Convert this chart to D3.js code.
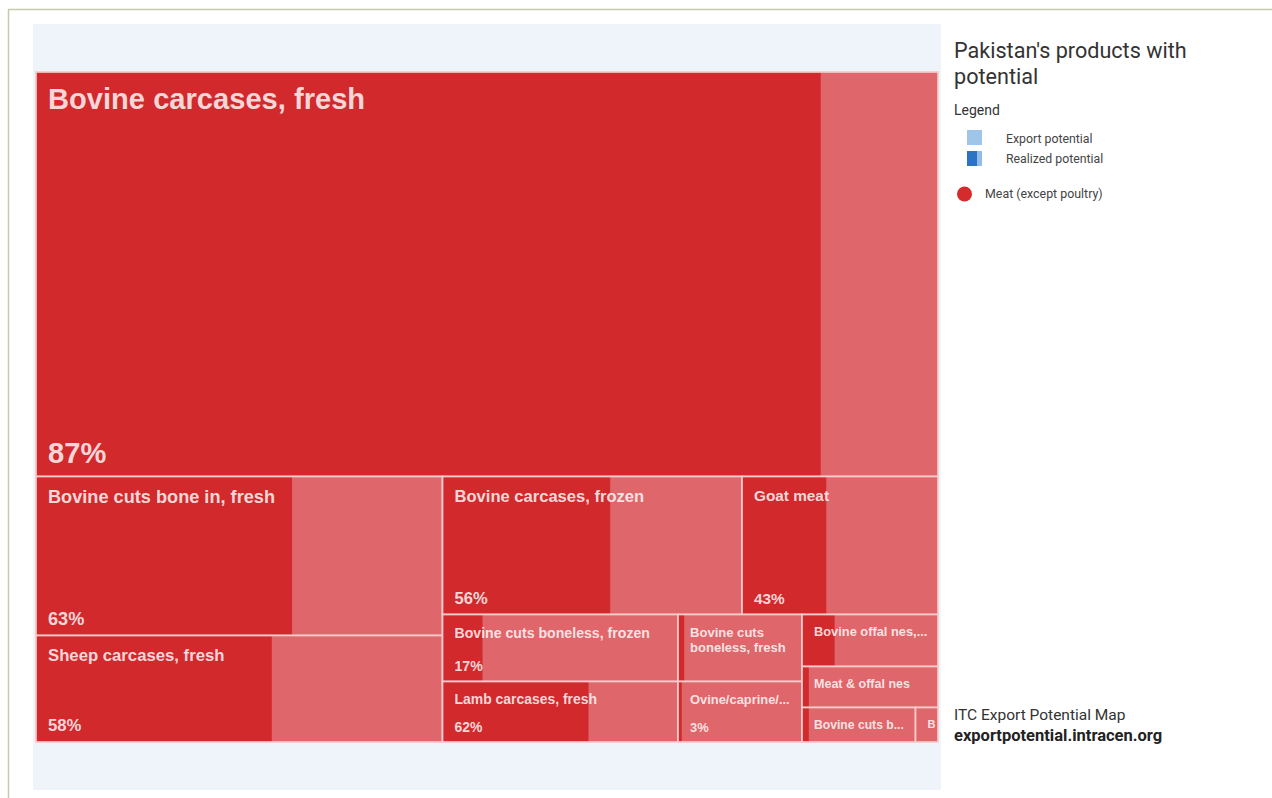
<!DOCTYPE html>
<html>
<head>
<meta charset="utf-8">
<script src="https://cdn.jsdelivr.net/npm/d3@7"></script>
<style>
  html, body { margin: 0; padding: 0; background: #ffffff; }
  svg { display: block; }
</style>
</head>
<body>
<svg id="chart" width="1272" height="798"></svg>
<script>
// ---------------- DATA ----------------
const products = [
  "Bovine carcases, fresh",
  "Bovine cuts bone in, fresh",
  "Sheep carcases, fresh",
  "Bovine carcases, frozen",
  "Goat meat",
  "Bovine cuts boneless, frozen",
  "Lamb carcases, fresh",
  "Bovine cuts boneless, fresh",
  "Ovine/caprine/...",
  "Bovine offal nes,...",
  "Meat & offal nes",
  "Bovine cuts b...",
  "B"
];
// export potential (relative size of each tile)
const exportPotential = [364859, 64634, 43292, 41331, 27048, 15779, 14248, 8308, 7502, 7072, 5576, 3916, 776];
// realized potential, %
const realizedPct = [87, 63, 58, 56, 43, 17, 62, 5, 3, 24, 5, 6, 0];
const chartTitle = ["Pakistan's products with", "potential"];
const legendTitle = "Legend";
const legendItems = ["Export potential", "Realized potential"];
const sectorNames = ["Meat (except poultry)"];
const footer = ["ITC Export Potential Map", "exportpotential.intracen.org"];

// ---------------- STYLE ----------------
const DARK = "#d2292d";
const LIGHT = "#df676b";
const SEP = "#f5cbcb";
const PANEL = "#eef4f9";
const LABEL_FONT = "'Liberation Sans', Arial, Helvetica, sans-serif";
const SIDE_FONT = "Roboto, 'Noto Sans', sans-serif";

const svg = d3.select("#chart");

// page border
svg.append("line").attr("x1", 8).attr("y1", 9.5).attr("x2", 1272).attr("y2", 9.5)
  .attr("stroke", "#c5cca9").attr("stroke-width", 1.5);
svg.append("line").attr("x1", 8.5).attr("y1", 9.5).attr("x2", 8.5).attr("y2", 798)
  .attr("stroke", "#c5cca9").attr("stroke-width", 1.5);

// light panel behind the treemap
svg.append("rect").attr("x", 33).attr("y", 24).attr("width", 908).attr("height", 766)
  .attr("fill", PANEL);

// ---------------- TREEMAP ----------------
const LW = 1000, LH = 1480; // layout space, stretched into the plot area
const root = d3.hierarchy({
    children: products.map((name, i) => ({ name, value: exportPotential[i], pct: realizedPct[i] }))
  })
  .sum(d => d.value || 0)
  .sort((a, b) => b.value - a.value);

d3.treemap().tile(d3.treemapSquarify.ratio(1)).size([LW, LH]).round(false)(root);

const x = d3.scaleLinear().domain([0, LW]).range([36, 938]);
const y = d3.scaleLinear().domain([0, LH]).range([72, 742]);
const fontScale = d3.scaleLinear().domain([0, 600]).range([10.2, 29]);

const gMap = svg.append("g");
const leaves = root.leaves();

const cells = gMap.selectAll("g.cell").data(leaves).join("g").attr("class", "cell");

cells.append("rect")
  .attr("x", d => x(d.x0)).attr("y", d => y(d.y0))
  .attr("width", d => x(d.x1) - x(d.x0)).attr("height", d => y(d.y1) - y(d.y0))
  .attr("fill", LIGHT);

cells.append("rect")
  .attr("x", d => x(d.x0)).attr("y", d => y(d.y0))
  .attr("width", d => d3.scaleLinear().domain([0, 100]).range([0, x(d.x1) - x(d.x0)])(d.data.pct))
  .attr("height", d => y(d.y1) - y(d.y0))
  .attr("fill", DARK);

cells.append("rect")
  .attr("x", d => x(d.x0)).attr("y", d => y(d.y0))
  .attr("width", d => x(d.x1) - x(d.x0)).attr("height", d => y(d.y1) - y(d.y0))
  .attr("fill", "none").attr("stroke", SEP).attr("stroke-width", 1.7);

cells.each(function(d) {
  const g = d3.select(this);
  const x0 = x(d.x0), x1 = x(d.x1), y0 = y(d.y0), y1 = y(d.y1);
  const w = x1 - x0, h = y1 - y0;
  const fs = fontScale(Math.sqrt(w * h));
  const tx = x0 + 12;
  const avail = w - 16;
  const lh = fs * 1.2;
  const base = y0 + 10 + 0.93 * fs;

  const text = g.append("text")
    .attr("x", tx).attr("y", base)
    .attr("font-family", LABEL_FONT).attr("font-weight", "bold")
    .attr("font-size", fs).attr("fill", "#ffffff").attr("fill-opacity", 0.82);

  // greedy word wrap
  const words = d.data.name.split(" ");
  let lines = [];
  let cur = [];
  const probe = text.append("tspan");
  words.forEach(wd => {
    const trial = cur.concat([wd]).join(" ");
    probe.text(trial);
    if (probe.node().getComputedTextLength() > avail && cur.length) {
      lines.push(cur.join(" "));
      cur = [wd];
    } else {
      cur.push(wd);
    }
  });
  if (cur.length) lines.push(cur.join(" "));
  probe.remove();

  lines.forEach((ln, i) => {
    text.append("tspan").attr("x", tx).attr("y", base + i * lh).text(ln);
  });

  if (lines.length === 1 && h >= 55) {
    g.append("text")
      .attr("x", tx).attr("y", y1 - 7 - 0.22 * fs)
      .attr("font-family", LABEL_FONT).attr("font-weight", "bold")
      .attr("font-size", fs).attr("fill", "#ffffff").attr("fill-opacity", 0.82)
      .text(d.data.pct + "%");
  }
});

// ---------------- SIDE PANEL ----------------
const side = svg.append("g").attr("font-family", SIDE_FONT);

side.selectAll("text.title").data(chartTitle).join("text")
  .attr("class", "title")
  .attr("x", 954).attr("y", (d, i) => 57.5 + i * 26)
  .attr("font-size", 21.6).attr("fill", "#333333").text(d => d);

side.append("text").attr("x", 954).attr("y", 115)
  .attr("font-size", 14).attr("fill", "#333333").text(legendTitle);

// legend swatches
side.append("rect").attr("x", 967).attr("y", 130).attr("width", 15).attr("height", 15)
  .attr("fill", "#9fc5e8");
side.append("rect").attr("x", 967).attr("y", 151).attr("width", 15).attr("height", 15)
  .attr("fill", "#8fbde8");
side.append("rect").attr("x", 967).attr("y", 151).attr("width", 10).attr("height", 15)
  .attr("fill", "#2c73c4");

side.selectAll("text.leg").data(legendItems).join("text")
  .attr("class", "leg")
  .attr("x", 1006).attr("y", (d, i) => 143 + i * 20)
  .attr("font-size", 12.3).attr("fill", "#444444").text(d => d);

side.selectAll("circle.sector").data(sectorNames).join("circle")
  .attr("class", "sector")
  .attr("cx", 964.5).attr("cy", (d, i) => 194 + i * 20).attr("r", 7.5)
  .attr("fill", "#d62b2b");
side.selectAll("text.sector").data(sectorNames).join("text")
  .attr("class", "sector")
  .attr("x", 985).attr("y", (d, i) => 198 + i * 20)
  .attr("font-size", 12.4).attr("fill", "#444444").text(d => d);

side.append("text").attr("x", 954).attr("y", 720)
  .attr("font-size", 15.5).attr("fill", "#333333").text(footer[0]);
side.append("text").attr("x", 954).attr("y", 741)
  .attr("font-size", 16.5).attr("font-weight", "bold").attr("fill", "#222222").text(footer[1]);
</script>
</body>
</html>
